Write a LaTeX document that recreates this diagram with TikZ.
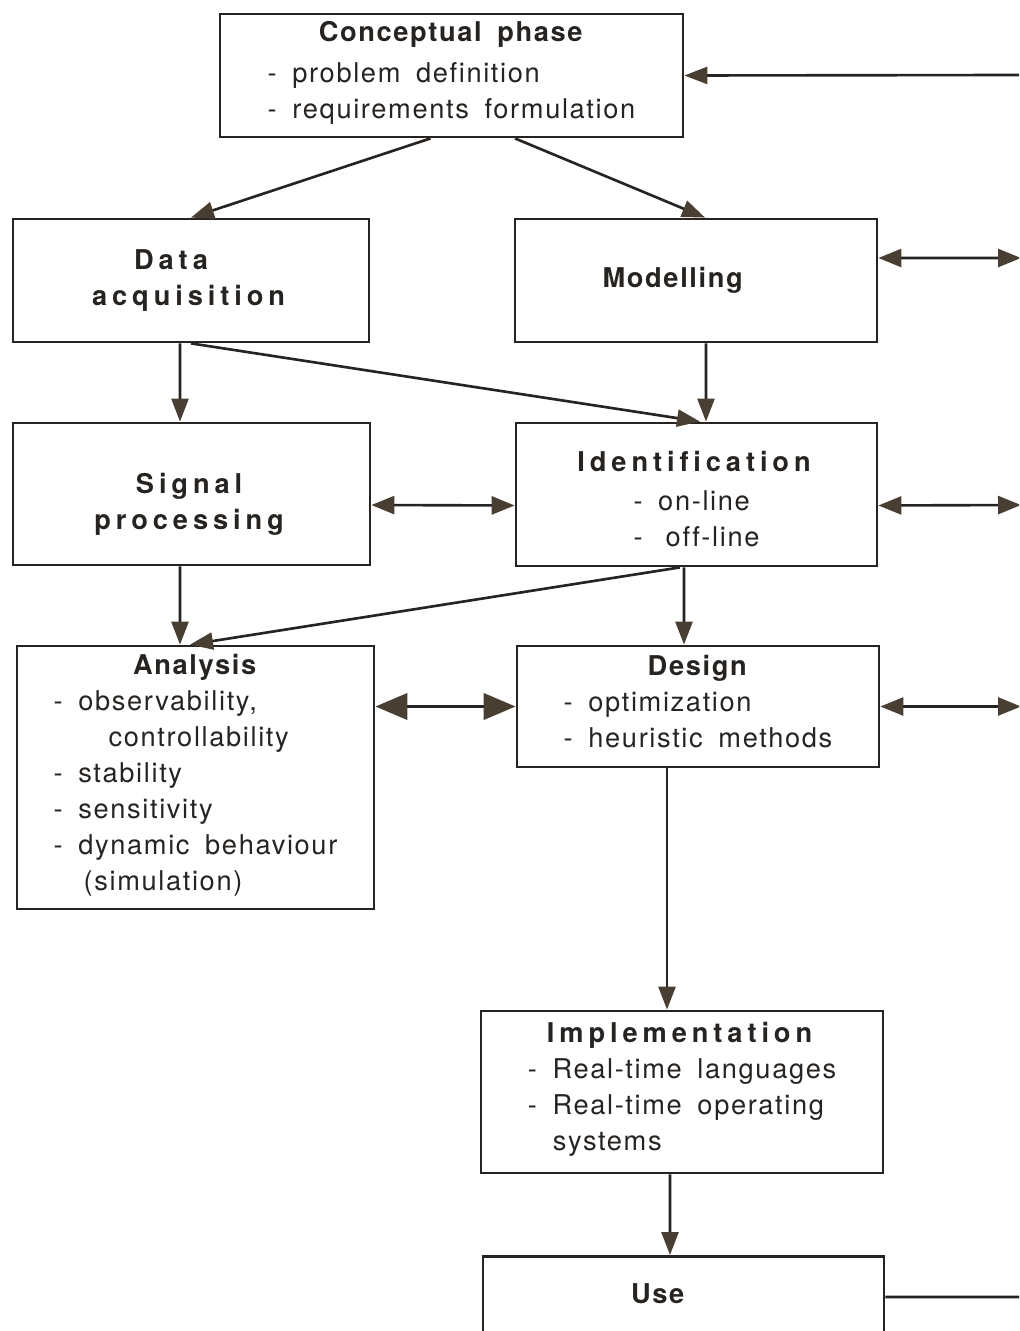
\documentclass[tikz,border=0pt]{standalone}
\usepackage{fontspec}
\setmainfont{TeX Gyre Heros}[LetterSpace=6,WordSpace=1.7,Ligatures=CommonOff]
\usetikzlibrary{arrows.meta,calc}
\newcommand{\spaced}{\addfontfeature{LetterSpace=18}}
\newcommand{\items}[1]{\begin{tabular}[t]{@{}l@{}}#1\end{tabular}}
\definecolor{inkcol}{RGB}{38,35,32}
\definecolor{tipcol}{RGB}{72,62,50}
\tikzset{
  flow/.style = {-{Triangle[length=0.46cm, width=0.34cm, color=tipcol]}, draw=inkcol, line width=1.5pt},
  twoway/.style = {{Triangle[length=0.46cm, width=0.36cm, color=tipcol]}-{Triangle[length=0.46cm, width=0.36cm, color=tipcol]}, draw=inkcol, line width=1.5pt},
  bigtwoway/.style = {{Triangle[length=0.64cm, width=0.52cm, color=tipcol]}-{Triangle[length=0.64cm, width=0.52cm, color=tipcol]}, draw=inkcol, line width=2.2pt},
}

\begin{document}
\begin{tikzpicture}[
  x=0.02cm, y=-0.02cm,
  phase/.style={draw=inkcol, line width=1.6pt, align=center, text=inkcol,
    font=\fontsize{15.5}{20.5}\selectfont},
]
\useasboundingbox (0,0) rectangle (1019,1331);
\clip (0,0) rectangle (1019,1331);

% Boxes
\node[phase, minimum width=9.26cm, minimum height=2.46cm] (concept) at (451.5,75.5)
  {\textbf{Conceptual phase}\\[3pt]\items{- problem definition\\- requirements formulation}};
\node[phase, minimum width=7.12cm, minimum height=2.46cm] (data) at (191,280.5)
  {\textbf{\spaced Data}\hspace*{0.7cm}\\\textbf{\spaced acquisition}};
\node[phase, minimum width=7.24cm, minimum height=2.46cm] (model) at (696,280.5)
  {\textbf{Modelling}\hspace*{0.9cm}};
\node[phase, minimum width=7.14cm, minimum height=2.84cm, text height=44pt] (signal) at (191.5,494)
  {\textbf{\spaced Signal}\\\textbf{\spaced processing}};
\node[phase, minimum width=7.22cm, minimum height=2.86cm, text height=45pt] (ident) at (696.5,494.5)
  {\textbf{\spaced Identification}\\[2pt]\items{- on-line\\-\hspace{0.15cm} off-line}};
\node[phase, minimum width=7.14cm, minimum height=5.26cm] (analysis) at (195.5,777.5)
  {\textbf{Analysis}\\\items{- observability,\\\hspace{1.1cm}controllability\\- stability\\- sensitivity\\- dynamic behaviour\\\hspace{0.6cm}(simulation)}};
\node[phase, minimum width=7.24cm, minimum height=2.42cm] (design) at (698,706.5)
  {\textbf{Design}\\\items{- optimization\\- heuristic methods}};
\node[phase, minimum width=8.04cm, minimum height=3.24cm] (impl) at (682,1092)
  {\textbf{\spaced Implementation}\\\items{- Real-time languages\\- Real-time operating\\\hspace{0.5cm}systems}};
\node[phase, minimum width=8.02cm, anchor=north, inner ysep=0pt,
  text height=0.94cm, text depth=3cm] (use) at (683.5,1255) {\textbf{Use}\hspace*{1cm}};

% Loose ends at the right margin
\coordinate (rConcept) at (1021,75);
\coordinate (rModel) at (1021,258);
\coordinate (rIdent) at (1021,505);
\coordinate (rDesign) at (1021,706.5);
\coordinate (rUse) at (1021,1297);

% Arrows
\draw[flow] (rConcept) -- (concept.east);
\draw[flow] ([xshift=-0.42cm]concept.south) -- (data.north);
\draw[flow] ([xshift=1.27cm]concept.south) -- ([xshift=0.18cm]model.north);
\draw[twoway] ([yshift=0.45cm]model.east) -- (rModel);
\draw[flow] ([xshift=-0.22cm]data.south) -- ([xshift=-0.23cm]signal.north);
\draw[flow] (data.south) -- ([xshift=0.07cm]ident.north);
\draw[flow] ([xshift=0.2cm]model.south) -- ([xshift=0.19cm]ident.north);
\draw[twoway] ([yshift=-0.22cm]signal.east) -- ([yshift=-0.22cm]ident.west);
\draw[twoway] ([yshift=-0.22cm]ident.east) -- (rIdent);
\draw[flow] ([xshift=-0.23cm]signal.south) -- ([xshift=-0.31cm]analysis.north);
\draw[flow] ([xshift=-0.33cm]ident.south) -- ([xshift=-0.11cm]analysis.north);
\draw[flow] ([xshift=-0.25cm]ident.south) -- ([xshift=-0.28cm]design.north);
\draw[bigtwoway] (analysis.east |- design.west) -- (design.west);
\draw[twoway] (design.east) -- (rDesign);
\draw[flow] ([xshift=-0.3cm]impl.north |- design.south) -- ([xshift=-0.3cm]impl.north);
\draw[flow] ([xshift=-0.24cm]impl.south) -- ([xshift=-0.27cm]use.north);
\draw[draw=inkcol, line width=1.5pt] ([yshift=-0.84cm]use.north east) -- (rUse);

\end{tikzpicture}
\end{document}
